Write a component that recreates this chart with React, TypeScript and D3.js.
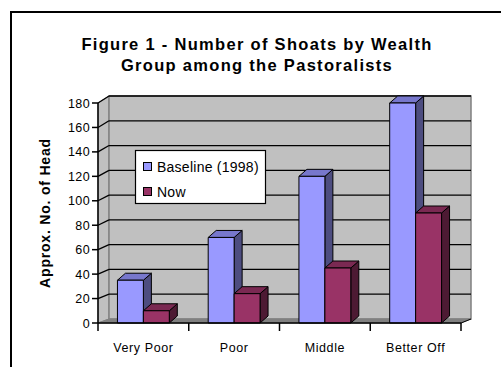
import React from "react";
import * as d3 from "d3";

const categories = ["Very Poor", "Poor", "Middle", "Better Off"];
const seriesNames = ["Baseline (1998)", "Now"];
const baselineValues = [35, 70, 120, 180];
const nowValues = [10, 24, 45, 90];
const yTicks = [0, 20, 40, 60, 80, 100, 120, 140, 160, 180];
const titleLines = ["Figure 1 - Number of Shoats by Wealth", "Group among the Pastoralists"];
const yAxisTitle = "Approx. No. of Head";

const W = 501;
const H = 367;
const FONT = "'Liberation Sans', Arial, sans-serif";

const fills = [
  { front: "#9999FF", top: "#7777CC", side: "#4D4D80" },
  { front: "#993366", top: "#7A2952", side: "#4D1A33" },
];

export default function App() {
  const plotLeft = 98;
  const plotRight = 461;
  const yFront = d3.scaleLinear().domain([0, 180]).range([323, 103]);
  const yBack = d3.scaleLinear().domain([0, 180]).range([319, 96]);
  const backLeft = 109;
  const backRight = 471;
  const x0 = d3.scaleBand<string>().domain(categories).range([plotLeft, plotRight]).padding(0);
  const bw = x0.bandwidth();
  const barW = bw / 3.5;
  const x1 = d3
    .scaleBand<string>()
    .domain(seriesNames)
    .range([(bw - 2 * barW) / 2, (bw - 2 * barW) / 2 + 2 * barW])
    .padding(0);
  const depthX = 8;
  const depthY = -7;
  const seriesValues = [baselineValues, nowValues];

  const bars: React.ReactNode[] = [];
  categories.forEach((c, ci) => {
    seriesNames.forEach((s, si) => {
      const v = seriesValues[si][ci];
      const xl = (x0(c) as number) + (x1(s) as number);
      const xr = xl + barW;
      const yt = yFront(v);
      const yb = yFront(0);
      const col = fills[si];
      bars.push(
        <g key={`${c}-${s}`} stroke="#000" strokeWidth={1} strokeLinejoin="round">
          <path
            d={`M${xr},${yb}L${xr + depthX},${yb + depthY}L${xr + depthX},${yt + depthY}L${xr},${yt}Z`}
            fill={col.side}
          />
          <path
            d={`M${xl},${yt}L${xl + depthX},${yt + depthY}L${xr + depthX},${yt + depthY}L${xr},${yt}Z`}
            fill={col.top}
          />
          <rect x={xl} y={yt} width={barW} height={yb - yt} fill={col.front} />
        </g>
      );
    });
  });

  return (
    <svg
      width={W}
      height={H}
      style={{ position: "absolute", left: 0, top: 0, background: "#fff" }}
      fontFamily={FONT}
    >
      <rect x={11} y={12} width={520} height={420} fill="#fff" stroke="#000" strokeWidth={2} />
      {titleLines.map((t, i) => (
        <text
          key={i}
          x={257}
          y={50 + i * 21}
          textAnchor="middle"
          fontSize={16.5}
          letterSpacing={1.3}
          fontWeight="bold"
          fill="#000"
        >
          {t}
        </text>
      ))}
      {/* side wall */}
      <path
        d={`M${plotLeft},${yFront(180)}L${backLeft},${yBack(180)}L${backLeft},${yBack(0)}L${plotLeft},${yFront(0)}Z`}
        fill="#C0C0C0"
        stroke="#808080"
        strokeWidth={1}
      />
      {/* back wall */}
      <rect
        x={backLeft}
        y={yBack(180)}
        width={backRight - backLeft}
        height={yBack(0) - yBack(180)}
        fill="#C0C0C0"
        stroke="#808080"
        strokeWidth={1.5}
      />
      {/* floor */}
      <path
        d={`M${plotLeft},${yFront(0)}L${backLeft},${yBack(0)}L${backRight},${yBack(0)}L${plotRight},${yFront(0)}Z`}
        fill="#808080"
        stroke="#808080"
        strokeWidth={1}
      />
      {/* gridlines */}
      {yTicks.filter((t) => t > 0).map((t) => (
        <g key={t} stroke="#000" strokeWidth={1.3}>
          <line x1={plotLeft} y1={yFront(t)} x2={backLeft} y2={yBack(t)} />
          <line x1={backLeft} y1={yBack(t)} x2={backRight} y2={yBack(t)} />
        </g>
      ))}
      {bars}
      {/* axes */}
      <line x1={plotLeft} y1={yFront(180)} x2={plotLeft} y2={yFront(0) + 8} stroke="#000" strokeWidth={1.5} />
      <line x1={plotLeft} y1={yFront(0)} x2={plotRight} y2={yFront(0)} stroke="#000" strokeWidth={1.5} />
      <line x1={plotRight} y1={yFront(0)} x2={backRight} y2={yBack(0)} stroke="#000" strokeWidth={1} />
      {yTicks.map((t) => (
        <g key={t}>
          <line x1={plotLeft - 6} y1={yFront(t)} x2={plotLeft} y2={yFront(t)} stroke="#000" strokeWidth={1.5} />
          <text x={plotLeft - 8} y={yFront(t) + 4.5} textAnchor="end" fontSize={12.5} letterSpacing={0.4} fill="#000">
            {t}
          </text>
        </g>
      ))}
      {categories.map((c) => {
        const x = x0(c) as number;
        return (
          <g key={c}>
            <line x1={x + bw} y1={yFront(0)} x2={x + bw} y2={yFront(0) + 8} stroke="#000" strokeWidth={1.5} />
            <text x={x + bw / 2} y={352} textAnchor="middle" fontSize={12.5} letterSpacing={0.6} fill="#000">
              {c}
            </text>
          </g>
        );
      })}
      <text
        transform={`translate(50,213) rotate(-90)`}
        textAnchor="middle"
        fontSize={14}
        letterSpacing={0.8}
        fontWeight="bold"
        fill="#000"
      >
        {yAxisTitle}
      </text>
      {/* legend */}
      <g>
        <rect x={135.5} y={150.5} width={130} height={53} fill="#fff" stroke="#000" strokeWidth={1.2} />
        {seriesNames.map((s, i) => (
          <g key={s}>
            <rect x={143.5} y={162.5 + i * 25} width={8} height={8} fill={fills[i].front} stroke="#000" strokeWidth={1} />
            <text x={157} y={171.5 + i * 25} fontSize={14} letterSpacing={0.25} fill="#000">
              {s}
            </text>
          </g>
        ))}
      </g>
    </svg>
  );
}
